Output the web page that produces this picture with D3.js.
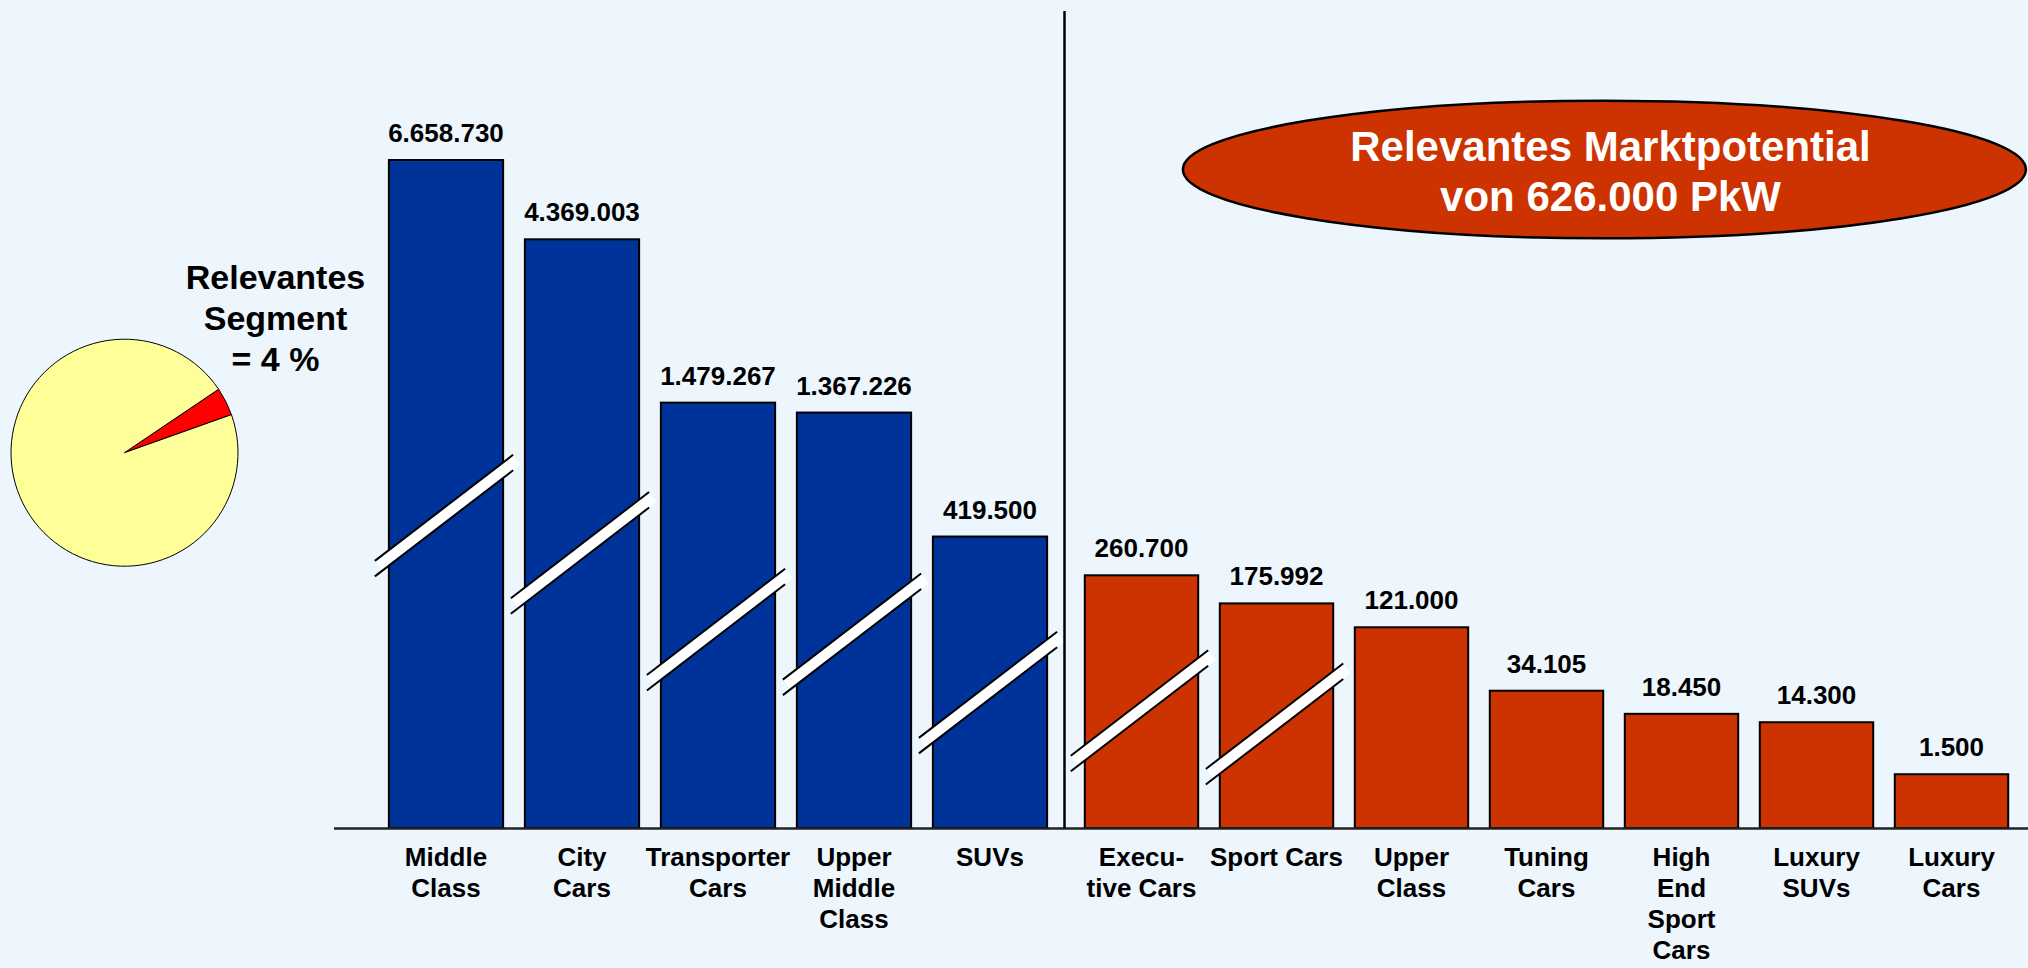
<!DOCTYPE html>
<html>
<head>
<meta charset="utf-8">
<script src="https://cdn.jsdelivr.net/npm/d3@7/dist/d3.min.js"></script>
<style>
  html, body { margin: 0; padding: 0; background: #EDF5FD; }
  svg { display: block; }
  text { font-family: "Liberation Sans", Arial, Helvetica, sans-serif; font-weight: bold; }
</style>
</head>
<body>
<svg id="chart" width="2028" height="968"></svg>
<script>
// Vehicle segments (label lines split with "\n") and unit counts
const categories = [
  "Middle\nClass", "City\nCars", "Transporter\nCars", "Upper\nMiddle\nClass", "SUVs",
  "Execu-\ntive Cars", "Sport Cars", "Upper\nClass", "Tuning\nCars",
  "High\nEnd\nSport\nCars", "Luxury\nSUVs", "Luxury\nCars"
];
const units = [6658730, 4369003, 1479267, 1367226, 419500, 260700, 175992, 121000, 34105, 18450, 14300, 1500];
// "mass" = general market, "relevant" = target segments
const groups = ["mass", "mass", "mass", "mass", "mass",
  "relevant", "relevant", "relevant", "relevant", "relevant", "relevant", "relevant"];
// bars shown with an interrupted (broken) axis
const brokenBars = [true, true, true, true, true, true, true, false, false, false, false, false];

// share of the relevant segment in the whole market
const pieLabels = ["Relevant", "Rest"];
const pieShares = [4, 96];
const segmentText = ["Relevantes", "Segment", "= 4 %"];
const calloutText = ["Relevantes Marktpotential", "von 626.000 PkW"];

const W = 2028, H = 968;
const baseY = 828;
const colors = { mass: "#003399", relevant: "#CC3300" };

const svg = d3.select("#chart");
svg.append("rect").attr("width", W).attr("height", H).attr("fill", "#EDF5FD");

const rows = categories.map((c, i) => ({
  label: c, value: units[i], group: groups[i], broken: brokenBars[i]
}));
const massRows = rows.filter(d => d.group === "mass");
const relRows = rows.filter(d => d.group === "relevant");

const xMass = d3.scaleBand().domain(massRows.map(d => d.label))
  .range([378, 1058]).paddingInner(0.16).paddingOuter(0.08);
const xRel = d3.scaleBand().domain(relRows.map(d => d.label))
  .range([1074, 2019]).paddingInner(0.16).paddingOuter(0.08);
const xOf = d => (d.group === "mass" ? xMass : xRel)(d.label);
const bwOf = d => (d.group === "mass" ? xMass : xRel).bandwidth();

// compressed value axis (broken axis)
const y = d3.scalePow().exponent(0.3)
  .domain([0, d3.max(units)]).range([baseY, baseY - 668]);

const fmt = d3.formatLocale({ decimal: ",", thousands: ".", grouping: [3], currency: ["", " €"] }).format(",d");

// bars
svg.append("g").selectAll("rect").data(rows).join("rect")
  .attr("x", d => xOf(d))
  .attr("y", d => y(d.value))
  .attr("width", d => bwOf(d))
  .attr("height", d => baseY - y(d.value))
  .attr("fill", d => colors[d.group])
  .attr("stroke", "#000")
  .attr("stroke-width", 2);

// axis break marks across the interrupted bars
const slope = -0.768, gap = 15.5;
const breakG = svg.append("g");
rows.filter(d => d.broken).forEach(d => {
  const x0 = xOf(d) - 14, x1 = xOf(d) + bwOf(d) + 10;
  const cx = xOf(d) + bwOf(d) / 2;
  const yc = baseY - 0.47 * (baseY - y(d.value));
  const yu = x => yc - gap / 2 + slope * (x - cx);
  const len = Math.hypot(1, slope);
  const nx = -slope / len * gap / len, ny = 1 / len * gap / len;
  breakG.append("polygon")
    .attr("points", [[x0, yu(x0)], [x1, yu(x1)], [x1 + nx, yu(x1) + ny], [x0 + nx, yu(x0) + ny]].join(" "))
    .attr("fill", "#fff");
  breakG.append("line").attr("x1", x0).attr("y1", yu(x0)).attr("x2", x1).attr("y2", yu(x1))
    .attr("stroke", "#000").attr("stroke-width", 2);
  breakG.append("line").attr("x1", x0).attr("y1", yu(x0) + gap).attr("x2", x1).attr("y2", yu(x1) + gap)
    .attr("stroke", "#000").attr("stroke-width", 2);
});

// value labels
svg.append("g").selectAll("text").data(rows).join("text")
  .attr("x", d => xOf(d) + bwOf(d) / 2)
  .attr("y", d => y(d.value) - 18)
  .attr("text-anchor", "middle")
  .attr("font-size", 26)
  .attr("fill", "#000")
  .text(d => fmt(d.value));

// baseline
svg.append("line").attr("x1", 334).attr("x2", W).attr("y1", baseY + 0.5).attr("y2", baseY + 0.5)
  .attr("stroke", "#222").attr("stroke-width", 2.5);

// divider between general market and relevant segments
svg.append("line").attr("x1", 1064.5).attr("x2", 1064.5).attr("y1", 11).attr("y2", baseY)
  .attr("stroke", "#000").attr("stroke-width", 2.5);

// category labels
const catG = svg.append("g").selectAll("text").data(rows).join("text")
  .attr("x", d => xOf(d) + bwOf(d) / 2)
  .attr("y", 866)
  .attr("text-anchor", "middle")
  .attr("font-size", 26)
  .attr("fill", "#000");
catG.selectAll("tspan").data(d => d.label.split("\n").map(t => ({ t, x: xOf(d) + bwOf(d) / 2 })))
  .join("tspan")
  .attr("x", s => s.x)
  .attr("dy", (s, i) => i === 0 ? 0 : 31)
  .text(s => s.t);

// pie of the relevant share
const pie = d3.pie().sort(null)
  .startAngle(56 * Math.PI / 180).endAngle(56 * Math.PI / 180 + 2 * Math.PI);
const arc = d3.arc().innerRadius(0).outerRadius(113.5);
const pieColors = d3.scaleOrdinal().domain(pieLabels).range(["#FF0000", "#FFFF99"]);
svg.append("g").attr("transform", "translate(124.5,452.7)")
  .selectAll("path").data(pie(pieShares)).join("path")
  .attr("d", arc)
  .attr("fill", (d, i) => pieColors(pieLabels[i]))
  .attr("stroke", "#000").attr("stroke-width", 1);

svg.append("g").selectAll("text").data(segmentText).join("text")
  .attr("x", 275.5)
  .attr("y", (d, i) => 289 + i * 41)
  .attr("text-anchor", "middle")
  .attr("font-size", 34)
  .attr("fill", "#000")
  .text(d => d);

// callout ellipse
svg.append("ellipse").attr("cx", 1604.4).attr("cy", 169.5).attr("rx", 421.5).attr("ry", 68.8)
  .attr("fill", "#CC3300").attr("stroke", "#000").attr("stroke-width", 2.5);
svg.append("g").selectAll("text").data(calloutText).join("text")
  .attr("x", 1610.5)
  .attr("y", (d, i) => 161 + i * 50)
  .attr("text-anchor", "middle")
  .attr("font-size", 42)
  .attr("fill", "#fff")
  .text(d => d);
</script>
</body>
</html>
